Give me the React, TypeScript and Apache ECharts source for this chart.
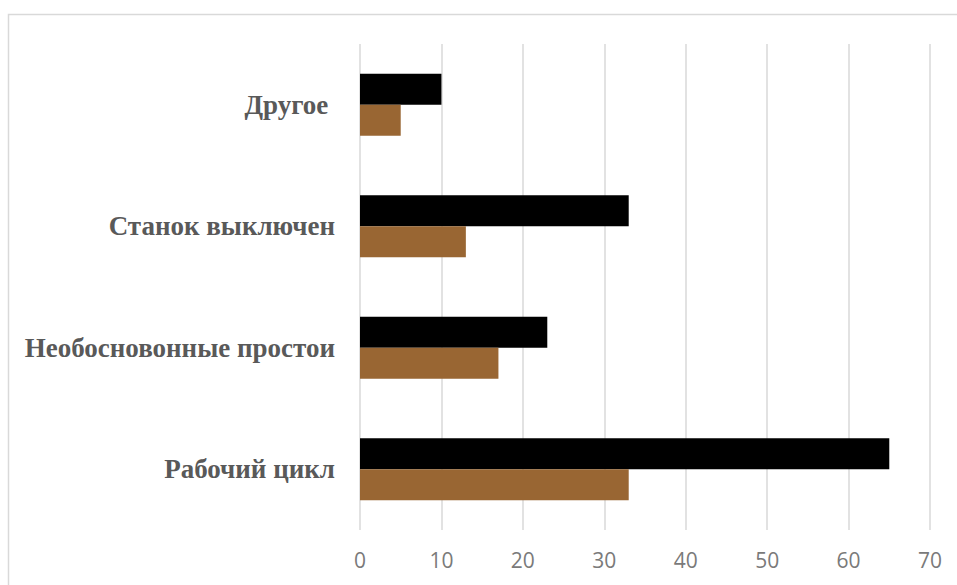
import React, { useEffect, useRef } from "react";
import * as echarts from "echarts";

const categories = ["Рабочий цикл", "Необосновонные простои", "Станок выключен", "Другое "];
const blackValues = [65, 23, 33, 10];
const brownValues = [33, 17, 13, 5];
const xTicks = { min: 0, max: 70, interval: 10 };

export default function App() {
  const ref = useRef<HTMLDivElement>(null);
  useEffect(() => {
    const chart = echarts.init(ref.current!, undefined, { renderer: "svg" });
    chart.setOption({
      animation: false,
      backgroundColor: "#ffffff",
      graphic: [
        {
          type: "rect",
          shape: { x: 8.5, y: 14.5, width: 1000, height: 700 },
          style: { fill: "none", stroke: "#d9d9d9", lineWidth: 1.5 },
          silent: true,
        },
      ],
      grid: { left: 360, right: 27, top: 44, bottom: 55, containLabel: false },
      xAxis: {
        type: "value",
        min: xTicks.min,
        max: xTicks.max,
        interval: xTicks.interval,
        axisLine: { show: false },
        axisTick: { show: false },
        axisLabel: {
          color: "#7a7a7a",
          fontSize: 21,
          fontFamily: "Open Sans",
          margin: 19,
        },
        splitLine: { show: true, lineStyle: { color: "#d9d9d9", width: 1.5 } },
      },
      yAxis: {
        type: "category",
        data: categories,
        axisLine: { show: false },
        axisTick: { show: false },
        axisLabel: {
          color: "#595959",
          fontSize: 27,
          fontWeight: "bold",
          fontFamily: "Liberation Serif",
          margin: 25,
        },
        splitLine: { show: false },
      },
      series: [
        {
          type: "bar",
          data: blackValues,
          barWidth: 31,
          barGap: "0%",
          itemStyle: { color: "#000000" },
        },
        {
          type: "bar",
          data: brownValues,
          barWidth: 31,
          barGap: "0%",
          itemStyle: { color: "#996633" },
        },
      ],
    });
    return () => chart.dispose();
  }, []);
  return <div ref={ref} style={{ width: 957, height: 585, position: "absolute", left: 0, top: 0 }} />;
}
